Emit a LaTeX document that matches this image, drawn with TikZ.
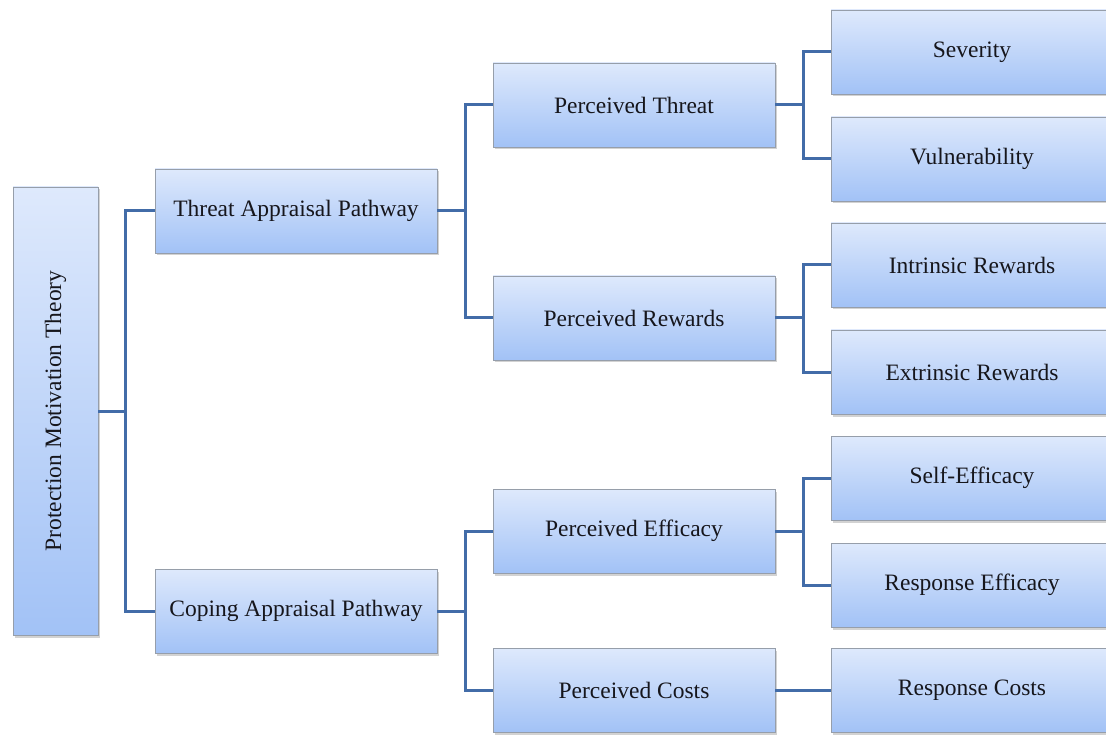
\documentclass[tikz,border=0pt]{standalone}
\usepackage{fontspec}
\setmainfont{Liberation Serif}
\usetikzlibrary{positioning}
\usetikzlibrary{shadows}
\definecolor{boxtop}{RGB}{222,233,252}
\definecolor{boxbot}{RGB}{162,194,246}
\definecolor{boxline}{RGB}{150,158,170}
\definecolor{linkblue}{RGB}{66,108,168}
\definecolor{textgray}{RGB}{22,22,28}
\tikzstyle{concept} = [rectangle, draw=boxline, line width=0.8pt, top color=boxtop, bottom color=boxbot, text=textgray, text centered, minimum width=282pt, minimum height=84pt, inner sep=2pt, font=\fontsize{23.5}{27}\selectfont, drop shadow={shadow xshift=2pt, shadow yshift=-2.5pt, opacity=0.35, fill=gray}]
\tikzstyle{link} = [draw=linkblue, line width=3pt]

\begin{document}
\begin{tikzpicture}[x=1pt,y=-1pt]
		% page frame
		\path[fill=white] (0,0) rectangle (1106,735);
		\useasboundingbox (0,0) rectangle (1106,735);
		% root
		\node[concept, minimum width=448pt, minimum height=85pt, rotate=90] (pmt) at (55.5,411) {Protection Motivation Theory};
		% pathways
		\node[concept] (tap) at (296,211) {Threat Appraisal Pathway};
		\node[concept] (cap) at (296,611) {Coping Appraisal Pathway};
		% perceptions
		\node[concept] (pthreat) at (634,105) {Perceived Threat};
		\node[concept] (prewards) at (634,318) {Perceived Rewards};
		\node[concept] (pefficacy) at (634,531) {Perceived Efficacy};
		\node[concept] (pcosts) at (634,690) {Perceived Costs};
		% factors
		\node[concept] (severity) at (972,52) {Severity};
		\node[concept] (vuln) at (972,159) {Vulnerability};
		\node[concept] (intrinsic) at (972,265) {Intrinsic Rewards};
		\node[concept] (extrinsic) at (972,372) {Extrinsic Rewards};
		\node[concept] (selfeff) at (972,478) {Self-Efficacy};
		\node[concept] (respeff) at (972,585) {Response Efficacy};
		\node[concept] (respcost) at (972,690) {Response Costs};
		% connectors
		\draw[link] (pmt.south) -- ++(27,0) |- (tap.west);
		\draw[link] (pmt.south) -- ++(27,0) |- (cap.west);
		\draw[link] (tap.east) -- ++(28,0) |- (pthreat.west);
		\draw[link] (tap.east) -- ++(28,0) |- (prewards.west);
		\draw[link] (cap.east) -- ++(28,0) |- (pefficacy.west);
		\draw[link] (cap.east) -- ++(28,0) |- (pcosts.west);
		\draw[link] (pthreat.east) -- ++(28,0) |- (severity.west);
		\draw[link] (pthreat.east) -- ++(28,0) |- (vuln.west);
		\draw[link] (prewards.east) -- ++(28,0) |- (intrinsic.west);
		\draw[link] (prewards.east) -- ++(28,0) |- (extrinsic.west);
		\draw[link] (pefficacy.east) -- ++(28,0) |- (selfeff.west);
		\draw[link] (pefficacy.east) -- ++(28,0) |- (respeff.west);
		\draw[link] (pcosts.east) -- (respcost.west);
	\end{tikzpicture}
\end{document}
